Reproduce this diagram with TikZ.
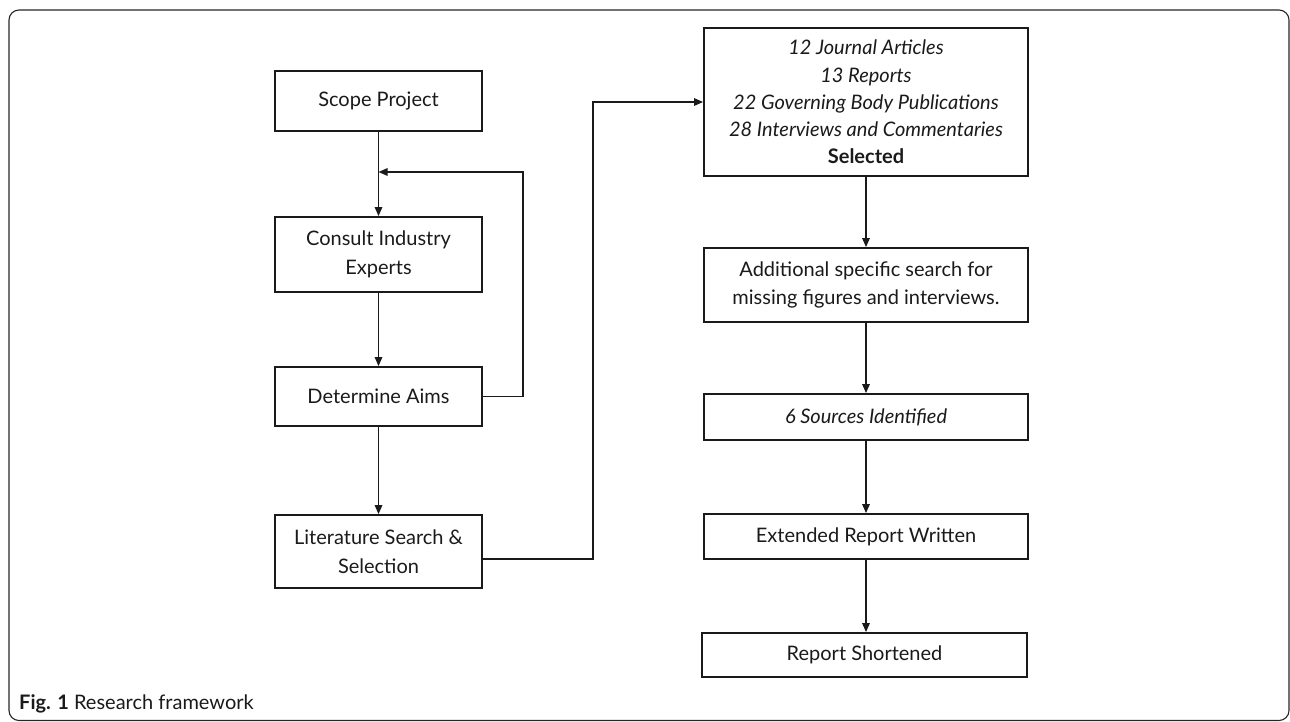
\documentclass[tikz,border=0pt]{standalone}
\usepackage{fontspec}
\setmainfont{Lato}
\usetikzlibrary{arrows.meta}
\definecolor{ink}{HTML}{1A1A1A}
\tikzset{
  box/.style={draw=ink, line width=1.8pt, rectangle, align=center, text=ink,
    inner sep=0pt, font=\fontsize{20}{28.5}\selectfont},
  lbox/.style={box, minimum width=207pt},
  rbox/.style={box, minimum width=324pt},
  conn/.style={draw=ink, line width=1.4pt},
  arr/.style={conn, -{Triangle[length=9pt,width=7.5pt]}}
}
\begin{document}
\begin{tikzpicture}[x=1pt,y=-1pt]
\useasboundingbox (0,0) rectangle (1290,721);
\draw[draw=black!85, line width=1.1pt, rounded corners=10pt] (9,10) rectangle (1289,720.5);
% left column
\node[lbox, minimum height=60pt] (scope) at (378.5,101) {Scope Project};
\node[lbox, minimum height=75pt] (consult) at (378.5,254.5) {Consult Industry\\Experts};
\node[lbox, minimum height=59pt] (det) at (378.5,396.5) {Determine Aims};
\node[lbox, minimum height=73pt] (lit) at (378.5,551.5) {Literature Search \&\\Selection};
% right column
\node[rbox, minimum height=148pt, font=\fontsize{20}{27.2}\selectfont] (sel) at (866,102)
  {\itshape 12 Journal Articles\\\itshape 13 Reports\\\itshape 22 Governing Body Publications\\\itshape 28 Interviews and Commentaries\\\bfseries Selected};
\node[rbox, minimum height=74pt] (add) at (866,285) {Additional specific search for\\missing figures and interviews.};
\node[rbox, minimum height=46pt] (src) at (866,417) {\itshape 6 Sources Identified};
\node[rbox, minimum height=45pt] (ext) at (866,536.5) {Extended Report Written};
\node[rbox, minimum height=44pt, minimum width=325pt] (short) at (864.5,655) {Report Shortened};
% connectors
\coordinate (merge) at (378.5,172);
\draw[conn] (scope.south) -- (merge);
\draw[arr] (merge) -- (consult.north);
\draw[arr] (det.east) -- ++(40,0) |- (merge);
\draw[arr] (consult.south) -- (det.north);
\draw[arr] (det.south) -- (lit.north);
\draw[arr] ([yshift=-7.5pt]lit.east) -- ++(110,0) |- (sel.west);
\draw[arr] (sel.south -| add.north) -- (add.north);
\draw[arr] (add.south) -- (src.north);
\draw[arr] (src.south) -- (ext.north);
\draw[arr] (ext.south) -- (ext.south |- short.north);
% caption
\node[anchor=west, inner sep=0pt, text=ink, font=\fontsize{20}{22}\selectfont] (cap) at (19,704)
  {\textbf{Fig. 1} Research framework};
\end{tikzpicture}
\end{document}
